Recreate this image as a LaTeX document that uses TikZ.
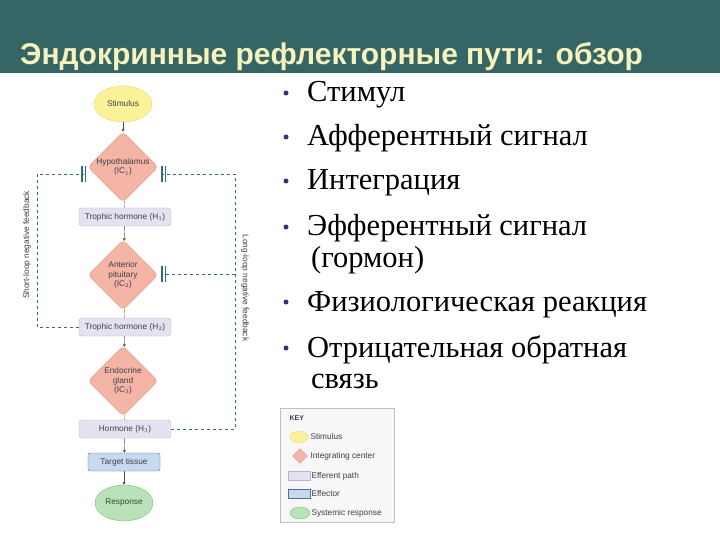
\documentclass[tikz,border=0pt]{standalone}
\usepackage{fontspec}
\setmainfont{Liberation Serif}
\setsansfont{Liberation Sans}
\usetikzlibrary{shapes.geometric,arrows.meta}
\definecolor{bar}{HTML}{356665}
\definecolor{titlec}{HTML}{F7F3BE}
\definecolor{stimf}{HTML}{FBF29A}
\definecolor{stimd}{HTML}{E7D768}
\definecolor{icf}{HTML}{F5B5A6}
\definecolor{icd}{HTML}{E29585}
\definecolor{eff}{HTML}{E4E2F1}
\definecolor{effd}{HTML}{B8B5D0}
\definecolor{tgf}{HTML}{C7D9F0}
\definecolor{tgd}{HTML}{4F6E98}
\definecolor{rsf}{HTML}{B9E2B9}
\definecolor{rsd}{HTML}{7CBF7C}
\definecolor{fb}{HTML}{2F6F86}
\definecolor{bul}{HTML}{33337A}
\tikzset{
 sm/.style={font=\sffamily\fontsize{8.3}{9.5}\selectfont, text=black!75, align=center},
 stim/.style={sm, ellipse, draw=stimd, fill=stimf, minimum width=58pt, minimum height=36pt, inner sep=0pt},
 ic/.style={sm, diamond, draw=icd, fill=icf, minimum width=70pt, minimum height=70pt, inner sep=0pt, rounded corners=4pt},
 ef/.style={sm, rectangle, rounded corners=3pt, draw=effd, fill=eff, minimum width=92pt, minimum height=18pt},
 tg/.style={sm, rectangle, rounded corners=2pt, draw=tgd, fill=tgf, minimum width=72pt, minimum height=18pt},
 rs/.style={sm, ellipse, draw=rsd, fill=rsf, minimum width=58pt, minimum height=36pt, inner sep=0pt},
 ar/.style={-{Stealth[length=3pt,width=3pt]}, black!70, thin},
 fbl/.style={dashed, fb, semithick},
 blk/.style={fb, line width=1.2pt},
 bull/.style={anchor=base west, font=\fontsize{30.5}{34}\selectfont, inner sep=0pt},
 dot/.style={circle, fill=bul, inner sep=0pt, minimum size=5pt},
}
\begin{document}
\begin{tikzpicture}[x=1pt,y=-1pt]
\useasboundingbox (0,0) rectangle (720,540);
\fill[white] (0,0) rectangle (720,540);
\fill[bar] (0,0) rectangle (720,73);
\node[anchor=base west, text=titlec, font=\sffamily\bfseries\fontsize{30}{34}\selectfont, inner sep=0pt] (title) at (20,65) {Эндокринные рефлекторные пути: обзор};

% diagram
\node[stim] (stim) at (123,104) {Stimulus};
\node[ic] (hyp) at (123,167) {Hypothalamus\\(IC$_1$)};
\node[ef] (h1) at (125,217) {Trophic hormone (H$_1$)};
\node[ic] (ant) at (123,275) {Anterior\\pituitary\\(IC$_2$)};
\node[ef] (h2) at (125,327) {Trophic hormone (H$_2$)};
\node[ic] (end) at (123,381) {Endocrine\\gland\\(IC$_3$)};
\node[ef] (h3) at (125,429) {Hormone (H$_3$)};
\node[tg] (tg) at (124,462) {Target tissue};
\node[rs] (rsp) at (124,503) {Response};
\draw[ar] (stim) -- (hyp);
\draw[black!50] (hyp) -- (h1);
\draw[ar] (h1) -- (ant);
\draw[black!50] (ant) -- (h2);
\draw[ar] (h2) -- (end);
\draw[black!50] (end) -- (h3);
\draw[ar] (h3) -- (tg);
\draw[ar] (tg) -- (rsp);

% feedback
\coordinate (bl) at (84,174);
\coordinate (br) at (163,174);
\coordinate (bp) at (163,274);
\draw[blk] (82,166) -- (82,182) (85.5,166) -- (85.5,182);
\draw[blk] (162,166) -- (162,182) (165.5,166) -- (165.5,182);
\draw[blk] (162,266) -- (162,282) (165.5,266) -- (165.5,282);
\draw[fbl] (h2.west) -- (37,327) -- (37,174) -- (bl);
\draw[fbl] (h3.east) -- (235,429) -- (235,174) -- (br);
\draw[fbl] (235,274) -- (bp);
\node[sm, rotate=90] (sl) at (27,245) {Short-loop negative feedback};
\node[sm, rotate=-90] (ll) at (245,288) {Long-loop negative feedback};

% key
\node[draw=black!25, fill=black!3, minimum width=114pt, minimum height=114pt, inner sep=0pt] (key) at (337,465) {};
\node[sm, anchor=west, font=\sffamily\bfseries\fontsize{7}{8}\selectfont] (kt) at (286,418) {KEY};
\node[ellipse, draw=stimd, fill=stimf, minimum width=18pt, minimum height=11pt, inner sep=0pt] (k1) at (299,437) {};
\node[sm, anchor=west] (k1t) at (307,437) {Stimulus};
\node[diamond, draw=icd, fill=icf, minimum width=15pt, minimum height=15pt, inner sep=0pt] (k2) at (300,456) {};
\node[sm, anchor=west] (k2t) at (307,456) {Integrating center};
\node[rectangle, draw=effd, fill=eff, minimum width=22pt, minimum height=9pt, inner sep=0pt] (k3) at (299,476) {};
\node[sm, anchor=west] (k3t) at (308,476) {Efferent path};
\node[rectangle, draw=tgd, fill=tgf, minimum width=22pt, minimum height=9pt, inner sep=0pt] (k4) at (299,494) {};
\node[sm, anchor=west] (k4t) at (308,494) {Effector};
\node[ellipse, draw=rsd, fill=rsf, minimum width=20pt, minimum height=12pt, inner sep=0pt] (k5) at (300,513) {};
\node[sm, anchor=west] (k5t) at (308,513) {Systemic response};

% bullets
\node[dot] (d1) at (286,93) {};
\node[bull] (b1) at (307,102) {Стимул};
\node[dot] (d2) at (286,137) {};
\node[bull] (b2) at (307,146) {Афферентный сигнал};
\node[dot] (d3) at (286,181) {};
\node[bull] (b3) at (307,190) {Интеграция};
\node[dot] (d4) at (286,227) {};
\node[bull] (b4) at (307,236) {Эфферентный сигнал};
\node[bull] (b4b) at (311,267) {(гормон)};
\node[dot] (d5) at (286,302) {};
\node[bull] (b5) at (307,311) {Физиологическая реакция};
\node[dot] (d6) at (286,348) {};
\node[bull] (b6) at (307,357) {Отрицательная обратная};
\node[bull] (b6b) at (311,388) {связь};
\end{tikzpicture}
\end{document}
